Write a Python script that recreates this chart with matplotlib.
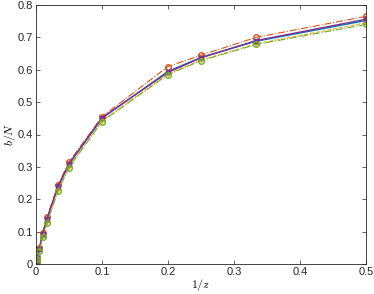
import matplotlib
matplotlib.use("Agg")
import matplotlib.pyplot as plt
import numpy as np

plt.rcParams['font.family'] = ['Liberation Sans', 'DejaVu Sans']
plt.rcParams['mathtext.fontset'] = 'cm'

x = [0.5, 1/3, 0.25, 0.2, 0.1, 0.05, 1/30, 1/60, 0.01, 0.005, 0.002, 0.001]
y_blue   = [0.752, 0.688, 0.638, 0.595, 0.450, 0.308, 0.238, 0.138, 0.090, 0.046, 0.019, 0.009]
y_orange = [0.765, 0.700, 0.645, 0.610, 0.455, 0.315, 0.245, 0.145, 0.095, 0.048, 0.020, 0.010]
y_yellow = [0.745, 0.680, 0.630, 0.587, 0.442, 0.300, 0.230, 0.130, 0.085, 0.043, 0.017, 0.008]
y_purple = [0.756, 0.690, 0.637, 0.592, 0.452, 0.310, 0.240, 0.140, 0.092, 0.047, 0.019, 0.009]
y_green  = [0.740, 0.678, 0.628, 0.585, 0.440, 0.298, 0.225, 0.127, 0.082, 0.041, 0.016, 0.007]

fig = plt.figure(figsize=(3.74, 2.94), dpi=100)
ax = fig.add_axes([36/374, 30/294, 330/374, 259/294])

ms = 4
ax.plot(x, y_blue, '-', color='#0072BD', lw=1.0, marker='x', ms=ms, mfc='none')
ax.plot(x, y_orange, '-.', color='#D95319', lw=0.8, marker='o', ms=ms, mfc='none')
ax.plot(x, y_yellow, '--', color='#EDB120', lw=0.8, marker='+', ms=ms, mfc='none')
ax.plot(x, y_purple, '-', color='#7E2F8E', lw=1.0, marker='s', ms=2.5, mfc='none')
ax.plot(x, y_green, '-.', color='#77AC30', lw=0.8, marker='o', ms=ms, mfc='none')

ax.set_xlim(0, 0.5)
ax.set_ylim(0, 0.8)
ax.set_xticks([0, 0.1, 0.2, 0.3, 0.4, 0.5])
ax.set_xticklabels(['0', '0.1', '0.2', '0.3', '0.4', '0.5'])
ax.set_yticks(np.round(np.arange(0, 0.81, 0.1), 1))
ax.set_yticklabels(['0', '0.1', '0.2', '0.3', '0.4', '0.5', '0.6', '0.7', '0.8'])
ax.tick_params(direction='in', top=True, right=True, labelsize=8, length=3, width=0.5, colors='#262626', pad=2)
for s in ax.spines.values():
    s.set_linewidth(0.6)
    s.set_color('#262626')
ax.set_xlabel('$1/z$', fontsize=8.5, labelpad=0)
ax.set_ylabel('$b/N$', fontsize=8.5, labelpad=0)

fig.savefig('out.png', dpi=100)
